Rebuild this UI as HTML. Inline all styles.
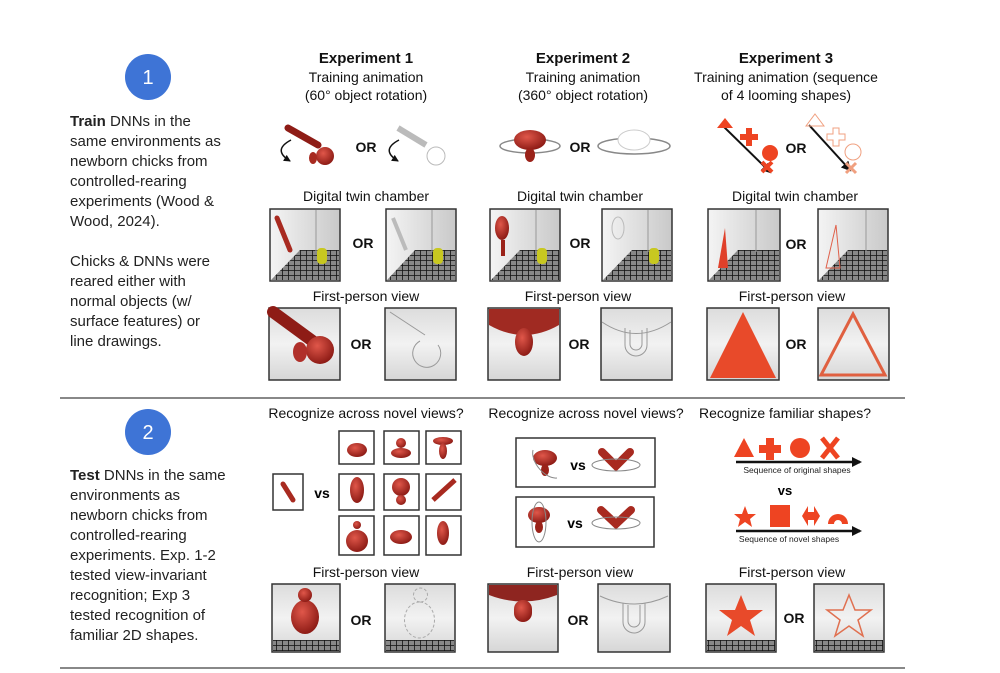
<!DOCTYPE html>
<html><head><meta charset="utf-8"><style>
html,body{margin:0;padding:0;background:#fff;}
svg{display:block;font-family:"Liberation Sans",Arial,sans-serif;}
</style></head><body>
<svg width="1000" height="673" viewBox="0 0 1000 673" xmlns="http://www.w3.org/2000/svg">
<defs>
<radialGradient id="rd" cx="40%" cy="35%" r="65%"><stop offset="0" stop-color="#e0574a"/><stop offset="1" stop-color="#8e1c16"/></radialGradient>
<linearGradient id="wall" x1="0" x2="1"><stop offset="0" stop-color="#f4f4f4"/><stop offset="1" stop-color="#c9c9c9"/></linearGradient>
<linearGradient id="fp" x1="0" y1="0" x2="0" y2="1"><stop offset="0" stop-color="#dcdcdc"/><stop offset="0.5" stop-color="#f2f2f2"/><stop offset="1" stop-color="#d6d6d6"/></linearGradient>
<pattern id="grid" width="6" height="5" patternUnits="userSpaceOnUse"><rect width="6" height="5" fill="#888"/><path d="M0 0H6M0 0V5" stroke="#111" stroke-width="1.6"/></pattern>
<marker id="ah" markerUnits="userSpaceOnUse" markerWidth="10" markerHeight="10" refX="8" refY="5" orient="auto"><path d="M0 0L10 5L0 10z" fill="#111"/></marker>
<marker id="ahs" markerUnits="userSpaceOnUse" markerWidth="7" markerHeight="7" refX="6" refY="3.5" orient="auto"><path d="M0 0L7 3.5L0 7z" fill="#111"/></marker>
</defs>
<rect width="1000" height="673" fill="#fff"/>

<circle cx="148" cy="77" r="23" fill="#3e74d6"/>
<text x="148" y="84" font-size="20" fill="#fff" text-anchor="middle">1</text>
<g font-size="15" fill="#222">
<text x="70" y="126"><tspan font-weight="bold">Train</tspan> DNNs in the</text>
<text x="70" y="146">same environments as</text>
<text x="70" y="166">newborn chicks from</text>
<text x="70" y="186">controlled-rearing</text>
<text x="70" y="206">experiments (Wood &amp;</text>
<text x="70" y="226">Wood, 2024).</text>
<text x="70" y="266">Chicks &amp; DNNs were</text>
<text x="70" y="286">reared either with</text>
<text x="70" y="306">normal objects (w/</text>
<text x="70" y="326">surface features) or</text>
<text x="70" y="346">line drawings.</text>
</g>

<g text-anchor="middle" fill="#111">
<text x="366" y="63" font-size="15" font-weight="bold">Experiment 1</text>
<text x="366" y="82" font-size="14">Training animation</text>
<text x="366" y="100" font-size="14">(60° object rotation)</text>
<text x="583" y="63" font-size="15" font-weight="bold">Experiment 2</text>
<text x="583" y="82" font-size="14">Training animation</text>
<text x="583" y="100" font-size="14">(360° object rotation)</text>
<text x="786" y="63" font-size="15" font-weight="bold">Experiment 3</text>
<text x="786" y="82" font-size="14">Training animation (sequence</text>
<text x="786" y="100" font-size="14">of 4 looming shapes)</text>
<text x="366" y="201" font-size="14">Digital twin chamber</text>
<text x="580" y="201" font-size="14">Digital twin chamber</text>
<text x="795" y="201" font-size="14">Digital twin chamber</text>
<text x="366" y="301" font-size="14">First-person view</text>
<text x="578" y="301" font-size="14">First-person view</text>
<text x="792" y="301" font-size="14">First-person view</text>
</g>
<g font-size="14" font-weight="bold" fill="#111" text-anchor="middle">
<text x="366" y="152">OR</text><text x="580" y="152">OR</text><text x="796" y="153">OR</text>
<text x="363" y="248">OR</text><text x="580" y="248">OR</text><text x="796" y="249">OR</text>
<text x="361" y="349">OR</text><text x="579" y="349">OR</text><text x="796" y="349">OR</text>
</g>

<path d="M291 140 Q272 150 290 161" fill="none" stroke="#111" stroke-width="1.5" marker-end="url(#ahs)"/>
<path d="M288 128 L318 145" stroke="#8e1c16" stroke-width="7" stroke-linecap="round"/>
<circle cx="325" cy="156" r="9" fill="url(#rd)"/><ellipse cx="313" cy="158" rx="4" ry="6" fill="#a82a20"/>
<path d="M399 140 Q380 150 398 161" fill="none" stroke="#111" stroke-width="1.5" marker-end="url(#ahs)"/>
<path d="M398 128 L426 145" stroke="#bbb" stroke-width="6" fill="none"/><circle cx="436" cy="156" r="9" fill="#fff" stroke="#bbb"/>
<ellipse cx="530" cy="146" rx="30" ry="7" fill="none" stroke="#888" stroke-width="1.5"/>
<ellipse cx="530" cy="140" rx="16" ry="10" fill="url(#rd)"/><ellipse cx="530" cy="155" rx="5" ry="7" fill="#9a2219"/>
<ellipse cx="634" cy="146" rx="36" ry="8" fill="none" stroke="#888" stroke-width="1.5"/>
<ellipse cx="634" cy="140" rx="16" ry="10" fill="#fff" stroke="#ccc"/>
<path d="M722 125 L770 172" stroke="#111" stroke-width="2" marker-end="url(#ah)"/>
<path d="M725 118 L733 128 L717 128z" fill="#ee4422"/><path d="M746 128h6v6h6v6h-6v6h-6v-6h-6v-6h6z" fill="#ee4422"/>
<circle cx="770" cy="153" r="8" fill="#ee4422"/><path d="M762 162l10 10M772 162l-10 10" stroke="#ee4422" stroke-width="4"/>
<path d="M809 125 L850 170" stroke="#111" stroke-width="2" marker-end="url(#ah)"/>
<path d="M815 114 L824 126 L806 126z" fill="none" stroke="#f0a080"/><path d="M833 128h6v6h6v6h-6v6h-6v-6h-6v-6h6z" fill="none" stroke="#f0a080"/>
<circle cx="853" cy="152" r="8" fill="none" stroke="#f0a080"/><path d="M846 163l10 10M856 163l-10 10" stroke="#f0a080" stroke-width="3"/>

<g stroke="#333" stroke-width="1.5">
<rect x="270" y="209" width="70" height="72" fill="url(#wall)"/>
<rect x="386" y="209" width="70" height="72" fill="url(#wall)"/>
<rect x="490" y="209" width="70" height="72" fill="url(#wall)"/>
<rect x="602" y="209" width="70" height="72" fill="url(#wall)"/>
<rect x="708" y="209" width="72" height="72" fill="url(#wall)"/>
<rect x="818" y="209" width="70" height="72" fill="url(#wall)"/>
</g>
<g fill="url(#grid)">
<path d="M271 280 L300 250 L339 250 L339 280z"/><path d="M387 280 L415 250 L455 250 L455 280z"/>
<path d="M491 280 L520 250 L559 250 L559 280z"/><path d="M603 280 L632 250 L671 250 L671 280z"/>
<path d="M709 280 L738 250 L779 250 L779 280z"/><path d="M819 280 L848 250 L887 250 L887 280z"/>
</g>
<g stroke="#999" stroke-width="1"><path d="M316 210V252M432 210V252M536 210V252M648 210V252M756 210V252M866 210V252"/></g>
<g fill="#c8c820"><rect x="317" y="248" width="10" height="16" rx="4"/><rect x="433" y="248" width="10" height="16" rx="4"/><rect x="537" y="248" width="10" height="16" rx="4"/><rect x="649" y="248" width="10" height="16" rx="4"/></g>
<path d="M277 218 L290 250" stroke="#a82a20" stroke-width="5" stroke-linecap="round"/>
<path d="M393 218 L406 250" stroke="#bbb" stroke-width="4" fill="none"/>
<ellipse cx="502" cy="228" rx="7" ry="12" fill="url(#rd)"/><path d="M503 240V256" stroke="#9a2219" stroke-width="4"/>
<ellipse cx="618" cy="228" rx="6" ry="11" fill="none" stroke="#bbb"/>
<path d="M725 228 L718 268 L728 268z" fill="#e0402a"/>
<path d="M836 225 L826 268 L840 268z" fill="none" stroke="#e0604a"/>

<g stroke="#333" stroke-width="1.5" fill="url(#fp)">
<rect x="269" y="308" width="71" height="72"/><rect x="385" y="308" width="71" height="72"/>
<rect x="488" y="308" width="72" height="72"/><rect x="601" y="308" width="71" height="72"/>
<rect x="707" y="308" width="72" height="72"/><rect x="818" y="308" width="71" height="72"/>
</g>
<path d="M273 312 L318 345" stroke="#8e1c16" stroke-width="12" stroke-linecap="round"/>
<circle cx="320" cy="350" r="14" fill="url(#rd)"/><ellipse cx="300" cy="352" rx="7" ry="10" fill="#b0302a"/>
<path d="M390 312 L425 335 M438 345 a14 14 0 1 1 -18 -4" fill="none" stroke="#999"/>
<path d="M489 309 H559 V325 Q524 345 489 325z" fill="#a02a22"/><ellipse cx="524" cy="342" rx="9" ry="14" fill="url(#rd)"/>
<path d="M602 322 Q636 345 671 322 M625 328 V345 a11 11 0 0 0 22 0 V328 M630 330 V344 a6 6 0 0 0 12 0 V330" fill="none" stroke="#999"/>
<path d="M743 312 L776 378 L710 378z" fill="#e84a2a"/>
<path d="M853 314 L885 375 L821 375z" fill="none" stroke="#e06040" stroke-width="3"/>

<line x1="60" y1="398" x2="905" y2="398" stroke="#888" stroke-width="2"/>

<circle cx="148" cy="432" r="23" fill="#3e74d6"/>
<text x="148" y="439" font-size="20" fill="#fff" text-anchor="middle">2</text>
<g font-size="15" fill="#222">
<text x="70" y="480"><tspan font-weight="bold">Test</tspan> DNNs in the same</text>
<text x="70" y="500">environments as</text>
<text x="70" y="520">newborn chicks from</text>
<text x="70" y="540">controlled-rearing</text>
<text x="70" y="560">experiments. Exp. 1-2</text>
<text x="70" y="580">tested view-invariant</text>
<text x="70" y="600">recognition; Exp 3</text>
<text x="70" y="620">tested recognition of</text>
<text x="70" y="640">familiar 2D shapes.</text>
</g>
<g text-anchor="middle" fill="#111" font-size="14">
<text x="366" y="418">Recognize across novel views?</text>
<text x="586" y="418">Recognize across novel views?</text>
<text x="785" y="418">Recognize familiar shapes?</text>
<text x="366" y="577">First-person view</text>
<text x="580" y="577">First-person view</text>
<text x="792" y="577">First-person view</text>
</g>
<g stroke="#333" stroke-width="1.5" fill="#fff">
<rect x="273" y="474" width="30" height="36"/>
<rect x="339" y="431" width="35" height="33"/><rect x="384" y="431" width="35" height="33"/><rect x="426" y="431" width="35" height="33"/>
<rect x="339" y="474" width="35" height="36"/><rect x="384" y="474" width="35" height="36"/><rect x="426" y="474" width="35" height="36"/>
<rect x="339" y="516" width="35" height="39"/><rect x="384" y="516" width="35" height="39"/><rect x="426" y="516" width="35" height="39"/>
</g>
<g fill="url(#rd)">
<path d="M283 484 L293 500" stroke="#a82a20" stroke-width="5" stroke-linecap="round"/>
<ellipse cx="357" cy="450" rx="10" ry="7"/><ellipse cx="401" cy="453" rx="10" ry="5"/><circle cx="401" cy="443" r="5"/>
<ellipse cx="443" cy="441" rx="10" ry="4"/><ellipse cx="443" cy="451" rx="4" ry="8"/>
<ellipse cx="357" cy="490" rx="7" ry="13"/><circle cx="401" cy="487" r="9"/><circle cx="401" cy="500" r="5"/>
<path d="M433 500 L455 480" stroke="#a82a20" stroke-width="5"/>
<circle cx="357" cy="541" r="11"/><circle cx="357" cy="525" r="4"/><ellipse cx="401" cy="537" rx="11" ry="7"/><ellipse cx="443" cy="533" rx="6" ry="12"/>
</g>
<text x="322" y="498" font-size="14" font-weight="bold" text-anchor="middle">vs</text>
<g stroke="#333" stroke-width="1.5" fill="#fff"><rect x="516" y="438" width="139" height="49"/><rect x="516" y="497" width="138" height="50"/></g>
<ellipse cx="545" cy="458" rx="12" ry="8" fill="url(#rd)"/><ellipse cx="545" cy="470" rx="4" ry="6" fill="#9a2219"/>
<path d="M533 450 a12 20 -40 0 0 24 28" fill="none" stroke="#888"/>
<text x="578" y="470" font-size="14" font-weight="bold" text-anchor="middle">vs</text>
<path d="M602 452 L616 466 L630 452" stroke="#a82a20" stroke-width="8" fill="none" stroke-linecap="round"/>
<ellipse cx="616" cy="465" rx="24" ry="6" fill="none" stroke="#888"/>
<ellipse cx="539" cy="515" rx="11" ry="8" fill="url(#rd)"/><ellipse cx="539" cy="527" rx="4" ry="6" fill="#9a2219"/>
<ellipse cx="539" cy="522" rx="7" ry="20" fill="none" stroke="#888"/>
<text x="575" y="528" font-size="14" font-weight="bold" text-anchor="middle">vs</text>
<path d="M601 510 L616 524 L631 510" stroke="#a82a20" stroke-width="8" fill="none" stroke-linecap="round"/>
<ellipse cx="616" cy="523" rx="24" ry="6" fill="none" stroke="#888"/>
<g fill="#ee4422">
<path d="M744 438 L754 457 L734 457z"/><path d="M766 438h8v7h7v8h-7v7h-8v-7h-7v-8h7z"/><circle cx="800" cy="448" r="10"/>
<path d="M822 438l16 20M838 438l-16 20" stroke="#ee4422" stroke-width="5"/>
<path d="M745 506 l3 8 h8 l-6 5 2 8 -7 -5 -7 5 2 -8 -6 -5 h8z"/><rect x="770" y="505" width="20" height="22"/>
<path d="M802 516 l6 -10 v6 h6 v-6 l6 10 -6 10 v-6 h-6 v6z"/><path d="M828 524 a10 10 0 0 1 20 0 h-6 a4 4 0 0 0 -8 0z"/>
</g>
<path d="M736 462 H860" stroke="#111" stroke-width="2.5" marker-end="url(#ah)"/>
<path d="M736 531 H860" stroke="#111" stroke-width="2.5" marker-end="url(#ah)"/>
<text x="797" y="473" font-size="8.5" text-anchor="middle" fill="#222">Sequence of original shapes</text>
<text x="789" y="542" font-size="8.5" text-anchor="middle" fill="#222">Sequence of novel shapes</text>
<text x="785" y="495" font-size="13" font-weight="bold" text-anchor="middle">vs</text>

<g stroke="#333" stroke-width="1.5" fill="url(#fp)">
<rect x="272" y="584" width="68" height="68"/><rect x="385" y="584" width="70" height="68"/>
<rect x="488" y="584" width="70" height="68"/><rect x="598" y="584" width="72" height="68"/>
<rect x="706" y="584" width="70" height="68"/><rect x="814" y="584" width="70" height="68"/>
</g>
<g fill="url(#grid)"><rect x="273" y="640" width="66" height="11"/><rect x="386" y="640" width="68" height="11"/><rect x="707" y="640" width="68" height="11"/><rect x="815" y="640" width="68" height="11"/></g>
<ellipse cx="305" cy="617" rx="14" ry="17" fill="url(#rd)"/><circle cx="305" cy="595" r="7" fill="url(#rd)"/>
<path d="M420 602 a15 18 0 1 1 -1 0 M420 602 a7 7 0 1 1 1 0" fill="none" stroke="#aaa" stroke-dasharray="3 2"/>
<path d="M489 585 H557 V595 Q523 608 489 595z" fill="#8e2520"/><rect x="514" y="600" width="18" height="22" rx="9" fill="url(#rd)"/>
<path d="M600 596 Q634 612 668 596 M623 603 V622 a11 11 0 0 0 22 0 V603 M628 605 V621 a6 6 0 0 0 12 0 V605" fill="none" stroke="#999"/>
<path d="M741 595 l6 15 h16 l-13 10 5 16 -14 -10 -14 10 5 -16 -13 -10 h16z" fill="#e84a2a"/>
<path d="M849 595 l6 15 h16 l-13 10 5 16 -14 -10 -14 10 5 -16 -13 -10 h16z" fill="none" stroke="#e07050" stroke-width="1.5"/>
<g font-size="14" font-weight="bold" fill="#111" text-anchor="middle">
<text x="361" y="625">OR</text><text x="578" y="625">OR</text><text x="794" y="623">OR</text>
</g>
<line x1="60" y1="668" x2="905" y2="668" stroke="#888" stroke-width="2"/>
</svg>
</body></html>
